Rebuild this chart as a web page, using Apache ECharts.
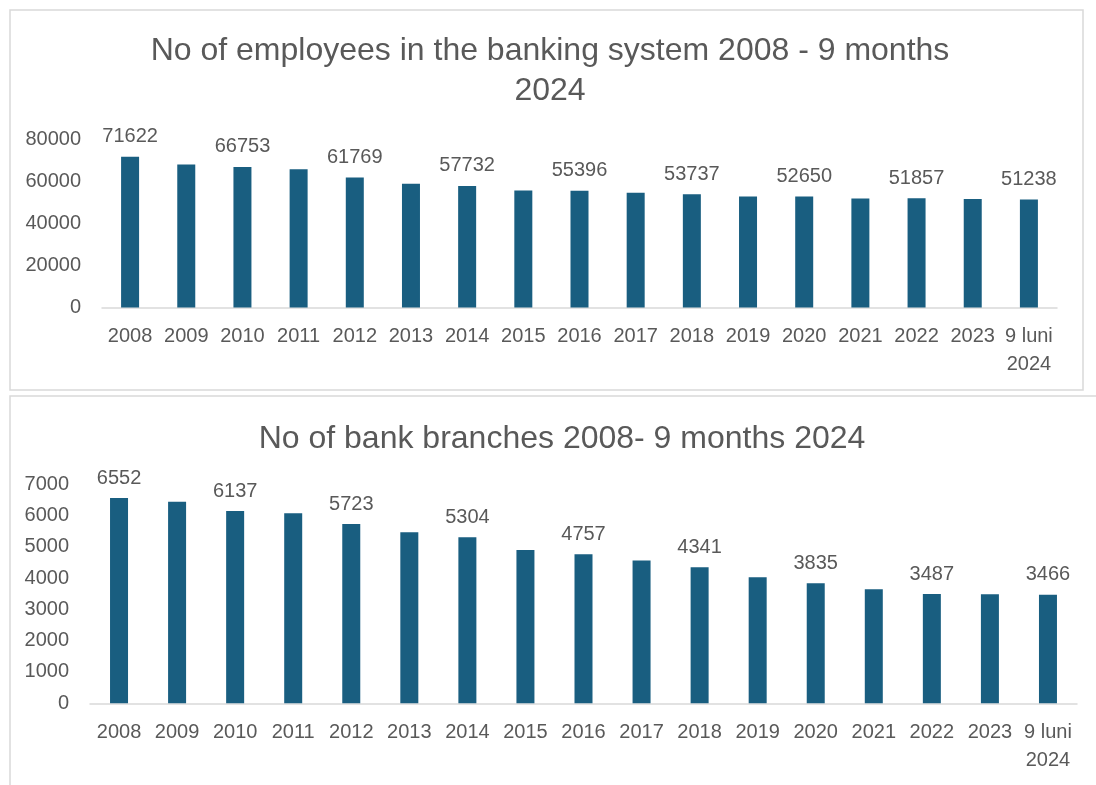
<!DOCTYPE html>
<html>
<head>
<meta charset="utf-8">
<script src="https://cdn.jsdelivr.net/npm/echarts@6/dist/echarts.min.js"></script>
<style>
  html, body { margin: 0; padding: 0; background: #ffffff; }
  #chart { width: 1096px; height: 785px; }
</style>
</head>
<body>
<div id="chart"></div>
<script>
// Years shown on both category axes
const categories = ['2008', '2009', '2010', '2011', '2012', '2013', '2014', '2015', '2016',
  '2017', '2018', '2019', '2020', '2021', '2022', '2023', '9 luni\n2024'];

// Employees in the banking system
const employees = [71622, 67900, 66753, 65650, 61769, 58800, 57732, 55600, 55396,
  54500, 53737, 52700, 52650, 51800, 51857, 51500, 51238];

// Bank branches
const branches = [6552, 6430, 6137, 6070, 5723, 5460, 5304, 4890, 4757,
  4560, 4341, 4020, 3835, 3640, 3487, 3480, 3466];

// Value labels are printed on every second year
const labelledIdx = [0, 2, 4, 6, 8, 10, 12, 14, 16];

const employeeTicks = { min: 0, max: 80000, interval: 20000 };
const branchTicks = { min: 0, max: 7000, interval: 1000 };

const titleEmployees = 'No of employees in the banking system 2008 - 9 months\n2024';
const titleBranches = 'No of bank branches 2008- 9 months 2024';

const FONT = 'Liberation Sans';
const TEXT = '#595959';
const BAR = '#195e80';
const LABEL_SIZE = 20;

const chart = echarts.init(document.getElementById('chart'), null, { renderer: 'canvas' });

function xAxis(gridIndex) {
  return {
    type: 'category', gridIndex, data: categories,
    axisLine: { lineStyle: { color: '#d9d9d9', width: 1.5 } },
    axisTick: { show: false },
    axisLabel: { color: TEXT, fontFamily: FONT, fontSize: LABEL_SIZE, lineHeight: 28, margin: 15, interval: 0 }
  };
}
function yAxis(gridIndex, t) {
  return {
    type: 'value', gridIndex, min: t.min, max: t.max, interval: t.interval,
    splitLine: { show: false }, axisLine: { show: false }, axisTick: { show: false },
    axisLabel: { color: TEXT, fontFamily: FONT, fontSize: LABEL_SIZE, margin: 21, formatter: v => String(v) }
  };
}
function barSeries(idx, values) {
  return {
    type: 'bar', xAxisIndex: idx, yAxisIndex: idx, data: values, barWidth: 18,
    itemStyle: { color: BAR },
    label: {
      show: true, position: 'top', distance: 10, color: TEXT, fontFamily: FONT, fontSize: LABEL_SIZE,
      formatter: p => labelledIdx.includes(p.dataIndex) ? String(p.value) : ''
    }
  };
}

chart.setOption({
  animation: false,
  backgroundColor: '#ffffff',
  graphic: [
    { type: 'rect', shape: { x: 10, y: 10, width: 1073, height: 380 },
      style: { fill: 'none', stroke: '#d9d9d9', lineWidth: 1.5 } },
    { type: 'rect', shape: { x: 10, y: 396, width: 1100, height: 400 },
      style: { fill: 'none', stroke: '#d9d9d9', lineWidth: 1.5 } }
  ],
  title: [
    { text: titleEmployees, left: 545, top: 26, textAlign: 'center',
      textStyle: { color: TEXT, fontFamily: FONT, fontSize: 32, fontWeight: 'normal', lineHeight: 40 } },
    { text: titleBranches, left: 557, top: 414, textAlign: 'center',
      textStyle: { color: TEXT, fontFamily: FONT, fontSize: 32, fontWeight: 'normal', lineHeight: 40 } }
  ],
  grid: [
    { left: 102, right: 39, top: 139, bottom: 477.5 },
    { left: 90, right: 19, top: 484, bottom: 81.7 }
  ],
  xAxis: [xAxis(0), xAxis(1)],
  yAxis: [yAxis(0, employeeTicks), yAxis(1, branchTicks)],
  series: [barSeries(0, employees), barSeries(1, branches)]
});
</script>
</body>
</html>
